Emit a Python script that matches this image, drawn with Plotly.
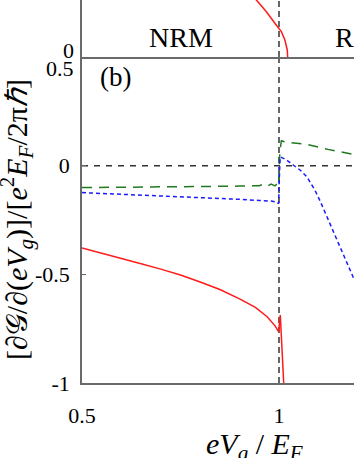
import plotly.graph_objects as go

# panel (b): derivative curves
red_x = [0.5, 0.55, 0.6, 0.65, 0.7, 0.75, 0.8, 0.85, 0.9, 0.94, 0.97, 0.99, 0.999, 1.0033, 1.012, 1.015]
red_y = [-0.379, -0.402, -0.426, -0.451, -0.476, -0.503, -0.535, -0.570, -0.613, -0.652, -0.695, -0.737, -0.764, -0.687, -1.0, -1.15]

green_x = [0.5, 0.6, 0.7, 0.8, 0.9, 0.95, 0.96, 0.97, 0.98, 0.99, 0.996, 0.999, 1.002, 1.006, 1.015, 1.03, 1.07, 1.124, 1.175, 1.19]
green_y = [-0.101, -0.100, -0.099, -0.097, -0.094, -0.092, -0.086, -0.094, -0.085, -0.093, -0.082, -0.090, 0.06, 0.115, 0.110, 0.106, 0.098, 0.075, 0.058, 0.052]

blue_x = [0.5, 0.6, 0.7, 0.8, 0.9, 0.95, 0.98, 0.995, 0.999, 1.001, 1.003, 1.01, 1.02, 1.036, 1.055, 1.071, 1.091, 1.105, 1.122, 1.14, 1.155, 1.17, 1.19]
blue_y = [-0.124, -0.131, -0.139, -0.147, -0.155, -0.160, -0.163, -0.168, -0.175, -0.05, 0.04, 0.035, 0.025, 0.003, -0.022, -0.052, -0.112, -0.165, -0.236, -0.31, -0.374, -0.44, -0.52]

# upper panel (cropped): red curve reaching zero
top_x = [0.93, 0.943, 0.968, 0.993, 1.006, 1.015, 1.021, 1.022]
top_y = [0.66, 0.6, 0.477, 0.337, 0.267, 0.179, 0.074, 0.0]

x_ticks = [0.5, 1]
x_ticktext = ["0.5", "1"]
y_ticks = [-1, -0.5, 0]
y_ticktext = ["-1", "-0.5", "0"]

x_range = [0.5, 1.1904]
y_range = [-1, 0.5]
top_range = [0, 0.6]
crit_x = 1.0
zero_y = 0.0

FONT = "Liberation Serif"
AXIS = "#6a6a6a"
REF = "#333333"

fig = go.Figure()

# reference dashed lines
fig.add_trace(go.Scatter(x=[crit_x, crit_x], y=y_range, mode="lines",
                         line=dict(color=REF, width=1.5, dash="6px,4px"),
                         xaxis="x", yaxis="y"))
fig.add_trace(go.Scatter(x=[crit_x, crit_x], y=top_range, mode="lines",
                         line=dict(color=REF, width=1.5, dash="6px,4px"),
                         xaxis="x2", yaxis="y2"))
fig.add_trace(go.Scatter(x=x_range, y=[zero_y, zero_y], mode="lines",
                         line=dict(color=REF, width=1.5, dash="6px,6px"),
                         xaxis="x", yaxis="y"))

fig.add_trace(go.Scatter(x=green_x, y=green_y, mode="lines",
                         line=dict(color="#1f7a1f", width=1.5, dash="10px,7px"),
                         xaxis="x", yaxis="y"))
fig.add_trace(go.Scatter(x=blue_x, y=blue_y, mode="lines",
                         line=dict(color="#1a1aff", width=1.5, dash="4px,3px"),
                         xaxis="x", yaxis="y"))
fig.add_trace(go.Scatter(x=red_x, y=red_y, mode="lines",
                         line=dict(color="#ff1a1a", width=1.5),
                         xaxis="x", yaxis="y"))
fig.add_trace(go.Scatter(x=top_x, y=top_y, mode="lines",
                         line=dict(color="#ff1a1a", width=1.5),
                         xaxis="x2", yaxis="y2"))

split = (383 - 57) / 383

fig.update_layout(
    width=354, height=458,
    margin=dict(l=82, r=0, t=0, b=75),
    paper_bgcolor="white", plot_bgcolor="white",
    showlegend=False,
    font=dict(family=FONT, size=22, color="black"),
    xaxis=dict(domain=[0, 1], range=x_range, tickvals=x_ticks, ticktext=x_ticktext,
               showline=True, linecolor=AXIS, linewidth=1.5, ticks="inside",
               ticklen=4, tickcolor=AXIS, showgrid=False, zeroline=False,
               ticklabelstandoff=12, anchor="y"),
    yaxis=dict(domain=[0, split], range=y_range, tickvals=y_ticks, ticktext=y_ticktext,
               showline=True, linecolor=AXIS, linewidth=1.5, ticks="inside",
               ticklen=4, tickcolor=AXIS, showgrid=False, zeroline=False,
               ticklabelstandoff=6, anchor="x"),
    xaxis2=dict(domain=[0, 1], range=x_range, showticklabels=False, ticks="",
                showline=True, linecolor=AXIS, linewidth=1.5, showgrid=False,
                zeroline=False, anchor="y2"),
    yaxis2=dict(domain=[split, 1], range=top_range, showticklabels=False, ticks="",
                showline=True, linecolor=AXIS, linewidth=1.5, showgrid=False,
                zeroline=False, anchor="x2"),
)

# shifted limit labels (as in the original, they sit off the shared border)
fig.add_annotation(text="0.5", xref="paper", yref="y", x=0, y=0.5, xanchor="right",
                   yanchor="middle", xshift=-6, yshift=-12, showarrow=False,
                   font=dict(size=22))
fig.add_annotation(text="0", xref="paper", yref="y2", x=0, y=0, xanchor="right",
                   yanchor="middle", xshift=-6, yshift=7, showarrow=False,
                   font=dict(size=22))
fig.add_annotation(text="(b)", xref="paper", yref="y", x=0.059, y=0.408, xanchor="left",
                   yanchor="middle", showarrow=False, font=dict(size=27))
fig.add_annotation(text="NRM", xref="x2", yref="y2", x=0.751, y=0.21,
                   xanchor="center", yanchor="middle", showarrow=False,
                   font=dict(size=28))
fig.add_annotation(text="RM", xref="x2", yref="y2", x=1.137, y=0.21,
                   xanchor="left", yanchor="middle", showarrow=False,
                   font=dict(size=28))
fig.add_annotation(text="<i>eV<sub>g</sub></i> / <i>E<sub>F</sub></i>", xref="paper",
                   yref="paper", x=0.636, y=0, yshift=-63, xanchor="center",
                   yanchor="middle", showarrow=False, font=dict(size=30))
fig.add_annotation(
    text="[∂𝒢/∂(<i>eV<sub>g</sub></i>)]/[<i>e</i><sup>2</sup><i>E<sub>F</sub></i>/2π<i>ℏ</i>]",
    xref="paper", yref="paper", x=0, y=split / 2, xshift=-66, textangle=-90,
    xanchor="center", yanchor="middle", showarrow=False, font=dict(size=30))

fig.write_html("out.html", config={"displayModeBar": False},
               post_script="document.body.style.margin='0';")
